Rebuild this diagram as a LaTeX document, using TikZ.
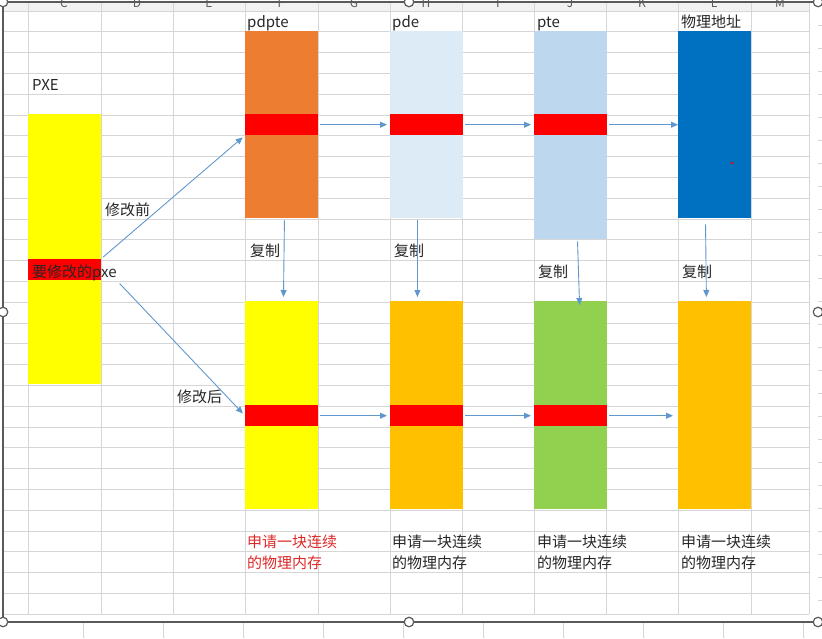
\documentclass[tikz,border=0pt]{standalone}
\usepackage{fontspec}
\setmainfont{Noto Sans CJK SC}
\usetikzlibrary{arrows.meta, positioning, calc}

\definecolor{CellRed}{RGB}{255,0,0}
\definecolor{CellYellow}{RGB}{255,255,0}
\definecolor{CellOrange}{RGB}{237,125,49}
\definecolor{PaleBlue}{RGB}{221,235,247}
\definecolor{SoftBlue}{RGB}{189,215,238}
\definecolor{DeepBlue}{RGB}{0,112,192}
\definecolor{CellGold}{RGB}{255,192,0}
\definecolor{CellGreen}{RGB}{146,208,80}
\definecolor{LinkBlue}{RGB}{96,152,206}
\definecolor{GridGray}{RGB}{214,214,214}
\definecolor{FrameGray}{RGB}{90,90,90}
\definecolor{NoteRed}{RGB}{222,40,40}
\definecolor{InkGray}{RGB}{38,38,38}

\begin{document}
\begin{tikzpicture}[x=1pt, y=-1pt,
    cell/.style={rectangle, inner sep=0pt, minimum width=72.5pt, anchor=north west},
    band/.style={cell, fill=CellRed, minimum height=21pt},
    lbl/.style={anchor=base west, inner sep=0pt, text=InkGray, font=\fontsize{15}{21}\selectfont},
    note/.style={lbl, align=left},
    link/.style={-{Triangle[length=7pt, width=6pt]}, LinkBlue, line width=0.9pt, shorten <=2pt, shorten >=3pt},
    handle/.style={circle, draw=FrameGray, fill=white, line width=1.2pt, minimum size=9.5pt, inner sep=0pt}]
  \useasboundingbox (0,0) rectangle (822,638);

  % Sheet grid
  \fill[gray!10] (3,2) rectangle (809,11);
  \foreach \y in {0,...,29}
    \draw[GridGray, line width=0.8pt] (3,11+20.8*\y) -- (809,11+20.8*\y);
  \foreach \x in {28,101,173,245,318,390,462,534,606,678,751,809}
    \draw[GridGray, line width=0.8pt] (\x,2) -- (\x,614);
  \foreach \x/\c in {64/C,137/D,209/E,281/F,354/G,426/H,498/I,570/J,642/K,714/L,780/M}
    \node[text=FrameGray, font=\fontsize{12}{12}\selectfont, inner sep=0pt] (col\c) at (\x,3) {\c};
  \foreach \x in {83,163,...,803}
    \draw[GridGray, line width=0.8pt] (\x,623) -- (\x,638);
  \foreach \y in {25,48,...,620}
    \draw[GridGray, line width=0.8pt] (818,\y) -- (822,\y);

  % Tables before the change
  \node[cell, fill=CellYellow, minimum height=270pt] (pxe) at (28,114) {};
  \node[band] (pxeband) at (28,259) {};
  \node[cell, fill=CellOrange, minimum height=187pt] (pdpte) at (245,31) {};
  \node[band] (pdpteband) at (245,114) {};
  \node[cell, fill=PaleBlue, minimum height=187pt] (pde) at (390,31) {};
  \node[band] (pdeband) at (390,114) {};
  \node[cell, fill=SoftBlue, minimum height=208pt] (pte) at (534,31) {};
  \node[band] (pteband) at (534,114) {};
  \node[cell, fill=DeepBlue, minimum height=187pt] (phys) at (678,31) {};
  \fill[CellRed] (732,163) circle (1.5);

  % Copies after the change
  \node[cell, fill=CellYellow, minimum height=208pt] (newpdpte) at (245,301) {};
  \node[band] (newpdpteband) at (245,405) {};
  \node[cell, fill=CellGold, minimum height=208pt] (newpde) at (390,301) {};
  \node[band] (newpdeband) at (390,405) {};
  \node[cell, fill=CellGreen, minimum height=208pt] (newpte) at (534,301) {};
  \node[band] (newpteband) at (534,405) {};
  \node[cell, fill=CellGold, minimum height=208pt] (newphys) at (678,301) {};

  % Labels
  \node[lbl] (pxename) at (32,90) {PXE};
  \node[lbl] (pdptename) at (247,27) {pdpte};
  \node[lbl] (pdename) at (392,27) {pde};
  \node[lbl] (ptename) at (537,27) {pte};
  \node[lbl] (physname) at (681,27) {物理地址};
  \node[lbl] (pxetext) at (32,277) {要修改的pxe};
  \node[lbl] (before) at (105,215) {修改前};
  \node[lbl] (after) at (177,402) {修改后};
  \node[lbl] (pdptecopy) at (250,256) {复制};
  \node[lbl] (pdecopy) at (394,256) {复制};
  \node[lbl] (ptecopy) at (538,277) {复制};
  \node[lbl] (physcopy) at (682,277) {复制};
  \node[note, text=NoteRed] (pdptenote) at (247,568) {申请一块连续\\的物理内存};
  \node[note] (pdenote) at (392,568) {申请一块连续\\的物理内存};
  \node[note] (ptenote) at (537,568) {申请一块连续\\的物理内存};
  \node[note] (physnote) at (681,568) {申请一块连续\\的物理内存};

  % Links
  \draw[link, shorten <=3pt] (pxeband.north east) -- (pdpteband.south west);
  \draw[link, shorten <=4pt] (pxetext.south east) -- (newpdpteband.west);
  \draw[link] (pdpteband.east) -- (pdeband.west);
  \draw[link] (pdeband.east) -- (pteband.west);
  \draw[link, shorten >=0pt] (pteband.east) -- (pteband.east -| phys.west);
  \draw[link] (newpdpteband.east) -- (newpdeband.west);
  \draw[link] (newpdeband.east) -- (newpteband.west);
  \draw[link, shorten >=5pt] (newpteband.east) -- (newpteband.east -| newphys.west);
  \draw[link, shorten >=4pt] ([xshift=3pt]pdpte.south) -- ([xshift=2pt]newpdpte.north);
  \draw[link, shorten >=4pt] ([xshift=-9pt]pde.south) -- ([xshift=-9pt]newpde.north);
  \draw[link, shorten >=-4pt] ([xshift=7pt]pte.south) -- ([xshift=9pt]newpte.north);
  \draw[link, shorten <=6pt, shorten >=4pt] ([xshift=-9pt]phys.south) -- ([xshift=-8pt]newphys.north);

  % Selection frame
  \draw[FrameGray, line width=1.2pt] (818,2) -- (3,2) -- (3,622) -- (818,622);
  \foreach \x/\y [count=\i] in {3/2,409/2,818/2,3/312,818/312,3/622,409/622,818/622}
    \node[handle] (handle\i) at (\x,\y) {};
\end{tikzpicture}
\end{document}
